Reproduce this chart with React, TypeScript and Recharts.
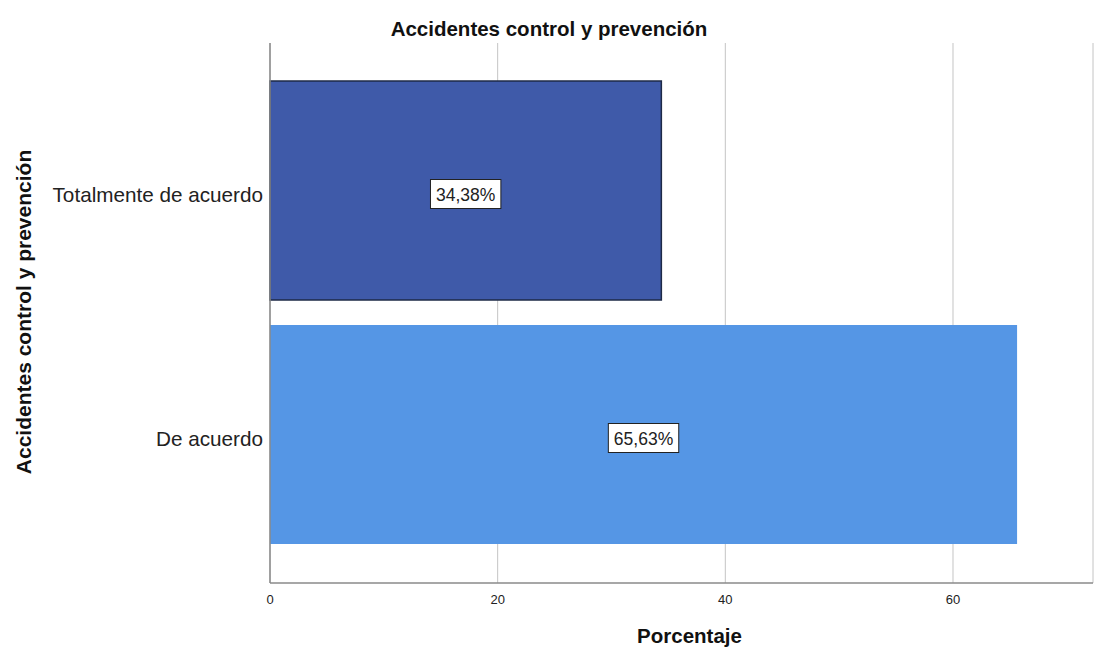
import React from "react";
import { BarChart, Bar, XAxis, YAxis, CartesianGrid, LabelList, Cell } from "recharts";

const categories = ["Totalmente de acuerdo", "De acuerdo"];
const percentages = [34.38, 65.63];
const barColors = ["#3f5aa9", "#5596e5"];
const barStrokes = ["#1e2a47", "none"];
const xTicks = [0, 20, 40, 60];

const data = categories.map((c, i) => ({ name: c, value: percentages[i] }));

const FONT = "'Liberation Sans', Arial, sans-serif";

const fmt = (v: number) => v.toFixed(2).replace(".", ",") + "%";

const ValueLabel = (props: any) => {
  const { x, y, width, height, value } = props;
  const cx = x + width / 2;
  const cy = y + height / 2 + 3.5;
  const txt = fmt(value);
  const w = txt.length * 10.4 + 8;
  const h = 29;
  return (
    <g>
      <rect x={cx - w / 2} y={cy - h / 2} width={w} height={h} fill="#ffffff" stroke="#222" strokeWidth={1} />
      <text x={cx} y={cy + 6.5} textAnchor="middle" fontFamily={FONT} fontSize={17.5} fill="#222">
        {txt}
      </text>
    </g>
  );
};

const YTick = (props: any) => {
  const { x, y, payload } = props;
  return (
    <text x={x + 1} y={y + 12} textAnchor="end" fontFamily={FONT} fontSize={20.7} fill="#222">
      {payload.value}
    </text>
  );
};

export default function App() {
  return (
    <div style={{ position: "absolute", left: 0, top: 0, width: 1095, height: 648, background: "#fff" }}>
      <BarChart
        width={1095}
        height={648}
        data={data}
        layout="vertical"
        margin={{ top: 43, right: 2, bottom: 0, left: 0 }}
        barSize={219}
      >
        <CartesianGrid horizontal={false} vertical={true} stroke="#c4c4c4" />
        <XAxis
          type="number"
          domain={[0, 72.3]}
          ticks={xTicks}
          height={65}
          tickLine={false}
          axisLine={{ stroke: "#8a8a8a", strokeWidth: 1.5 }}
          tick={{ fontSize: 13, fill: "#222", fontFamily: FONT }}
          tickMargin={6}
        />
        <YAxis
          type="category"
          dataKey="name"
          width={270}
          tickLine={false}
          axisLine={{ stroke: "#8a8a8a", strokeWidth: 1.5 }}
          tick={<YTick />}
          padding={{ top: 25, bottom: 27 }}
        />
        <Bar dataKey="value" isAnimationActive={false}>
          {data.map((d, i) => (
            <Cell key={d.name} fill={barColors[i]} stroke={barStrokes[i]} strokeWidth={1.5} />
          ))}
          <LabelList dataKey="value" content={<ValueLabel />} />
        </Bar>
        <text x={549} y={36} textAnchor="middle" fontFamily={FONT} fontSize={20.5} fontWeight="bold" fill="#111">
          Accidentes control y prevención
        </text>
        <text x={689.5} y={643} textAnchor="middle" fontFamily={FONT} fontSize={20.5} fontWeight="bold" fill="#111">
          Porcentaje
        </text>
        <text
          x={31}
          y={312}
          textAnchor="middle"
          fontFamily={FONT}
          fontSize={21}
          fontWeight="bold"
          fill="#111"
          transform="rotate(-90 31 312)"
        >
          Accidentes control y prevención
        </text>
      </BarChart>
    </div>
  );
}
